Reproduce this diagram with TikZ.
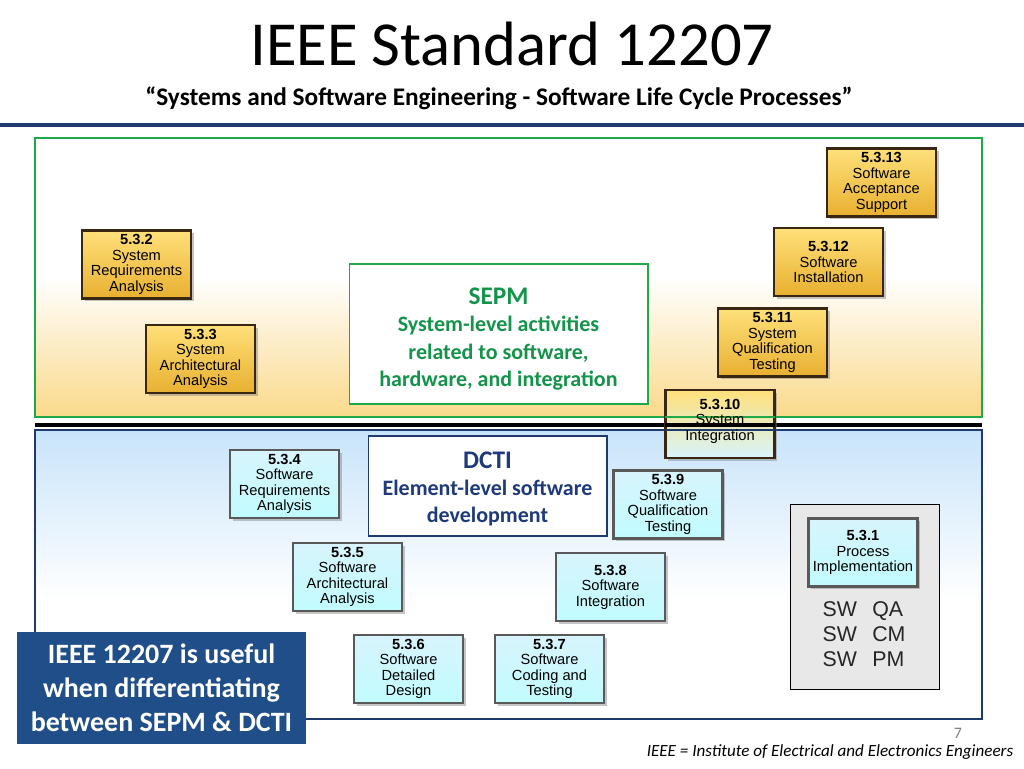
\documentclass[tikz,border=0pt]{standalone}
\usepackage{fontspec}
\setmainfont{Carlito}
\newfontfamily\boxfont{Liberation Sans}
\usetikzlibrary{shadows}
\definecolor{navy}{HTML}{1F3A6E}
\definecolor{grn}{HTML}{1FA84A}
\definecolor{orng}{HTML}{FAD98A}
\definecolor{orngtop}{HTML}{FFE07A}
\definecolor{orngbot}{HTML}{E8B030}
\definecolor{bluetop}{HTML}{C8E4FA}
\definecolor{bluebox}{HTML}{D8F4FC}
\definecolor{calbl}{HTML}{1F4E89}
\definecolor{txtgreen}{HTML}{14934A}
\definecolor{txtnavy}{HTML}{1F3A7A}
\begin{document}
\begin{tikzpicture}[x=0.75pt,y=-0.75pt,
  proc/.style={draw=black!70!brown,line width=1.8pt,drop shadow={shadow xshift=2pt,shadow yshift=-2pt,opacity=0.45},
    font=\boxfont\fontsize{11}{11.6}\selectfont,align=center,inner sep=0pt},
  ybox/.style={proc,top color=orngtop,bottom color=orngbot},
  bbox/.style={proc,draw=black!65,top color=bluebox,bottom color=bluebox!60!cyan!50!white}]
\useasboundingbox (0,0) rectangle (1024,768);
\fill[white] (0,0) rectangle (1024,768);
% header
\node (title) at (512,44) {\fontsize{47}{50}\selectfont IEEE Standard 12207};
\node (sub) at (499,98) {\fontsize{19}{22}\selectfont\bfseries “Systems and Software Engineering - Software Life Cycle Processes”};
\fill[navy] (0,123) rectangle (1024,127);
% upper frame
\shade[top color=white,bottom color=orng,middle color=white] (35,138) rectangle (982,417);
\draw[grn,line width=2pt] (35,138) rectangle (982,417);
\fill[black] (35,423) rectangle (982,427);
% lower frame
\shade[top color=bluetop,bottom color=white] (35,430) rectangle (982,600);
\fill[white] (35,600) rectangle (982,719);
\draw[navy,line width=2pt] (35,430) rectangle (982,719);
% SEPM/DCTI
\node[draw=grn,line width=1pt,fill=white,minimum width=224pt,minimum height=105pt,inner sep=0pt,text width=222pt,align=center,text=txtgreen,font=\bfseries\fontsize{16.5}{20.5}\selectfont] (sepm) at (498.5,334) {};
\node[text=txtgreen,font=\bfseries\fontsize{16.5}{20.5}\selectfont,align=center] (sepmt) at (498.5,339)
 {{\fontsize{19}{20}\selectfont SEPM}\\System-level activities\\related to software,\\hardware, and integration};
\node[draw=navy,line width=1pt,fill=white,minimum width=179pt,minimum height=75pt] (dcti) at (487.5,486) {};
\node[text=txtnavy,font=\bfseries\fontsize{16.5}{20.5}\selectfont,align=center] (dctit) at (487.5,489)
 {{\fontsize{19}{20}\selectfont DCTI}\\Element-level software\\development};
% grey box
\node[draw=black,fill=black!9,minimum width=112pt,minimum height=139pt] (grey) at (865,597) {};
\node[font=\boxfont\fontsize{16}{18.5}\selectfont,align=left,text=black!85] (sw) at (864,634) {SW\ \ \,QA\\SW\ \ \,CM\\SW\ \ \,PM};
% boxes
\def\bw{82pt}\def\bh{51pt}
\node[ybox,minimum width=\bw,minimum height=\bh] (b13) at (881.5,182.5) {\textbf{5.3.13}\\Software\\Acceptance\\Support};
\node[ybox,minimum width=\bw,minimum height=\bh] (b12) at (828.5,262) {\textbf{5.3.12}\\Software\\Installation};
\node[ybox,minimum width=\bw,minimum height=\bh] (b2) at (136.5,264.5) {\textbf{5.3.2}\\System\\Requirements\\Analysis};
\node[ybox,minimum width=\bw,minimum height=\bh] (b11) at (772.5,342.5) {\textbf{5.3.11}\\System\\Qualification\\Testing};
\node[ybox,minimum width=\bw,minimum height=\bh] (b3) at (200.5,359) {\textbf{5.3.3}\\System\\Architectural\\Analysis};
\node[proc,top color=orngtop,bottom color=bluebox,minimum width=\bw,minimum height=\bh] (b10) at (720,424) {};
\draw[grn,line width=2pt] (665,417) -- (775,417);
\fill[black] (665,423) rectangle (775,427);
\draw[navy,line width=2pt] (665,430) -- (775,430);
\node[font=\boxfont\fontsize{11}{11.6}\selectfont,align=center,inner sep=0pt] (b10t) at (720,421) {\textbf{5.3.10}\\System\\Integration};
\node[bbox,minimum width=\bw,minimum height=\bh] (b4) at (284.5,484) {\textbf{5.3.4}\\Software\\Requirements\\Analysis};
\node[bbox,minimum width=\bw,minimum height=\bh] (b9) at (668,504.5) {\textbf{5.3.9}\\Software\\Qualification\\Testing};
\node[bbox,minimum width=\bw,minimum height=\bh] (b5) at (347.5,577) {\textbf{5.3.5}\\Software\\Architectural\\Analysis};
\node[bbox,minimum width=\bw,minimum height=\bh] (b8) at (610.5,587) {\textbf{5.3.8}\\Software\\Integration};
\node[bbox,minimum width=\bw,minimum height=\bh] (b6) at (408.5,669) {\textbf{5.3.6}\\Software\\Detailed\\Design};
\node[bbox,minimum width=\bw,minimum height=\bh] (b7) at (549.5,669) {\textbf{5.3.7}\\Software\\Coding and\\Testing};
\node[bbox,minimum width=\bw,minimum height=\bh] (b1) at (863,552.5) {\textbf{5.3.1}\\Process\\Implementation};
% callout
\node[fill=calbl,minimum width=217pt,minimum height=84pt,text=white,align=center,font=\bfseries\fontsize{21}{25.5}\selectfont] (call) at (161.5,688) {IEEE 12207 is useful\\when differentiating\\between SEPM \& DCTI};
% footer
\node[text=black!50,font=\fontsize{12}{12}\selectfont] (pg) at (958,733) {7};
\node[font=\itshape\fontsize{12.8}{14}\selectfont] (foot) at (830,752) {IEEE = Institute of Electrical and Electronics Engineers};
\end{tikzpicture}
\end{document}
